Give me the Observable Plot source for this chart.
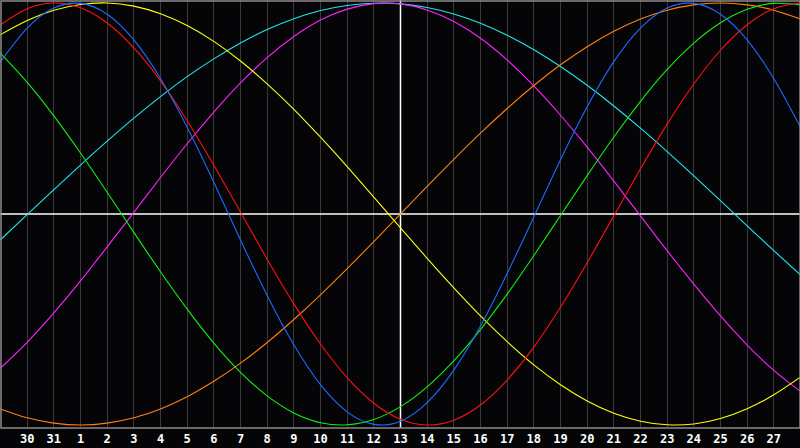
<!DOCTYPE html>
<html>
<head>
<meta charset="utf-8">
<script src="https://cdn.jsdelivr.net/npm/d3@7"></script>
<script src="https://cdn.jsdelivr.net/npm/@observablehq/plot@0.6"></script>
<style>
  html, body { margin: 0; padding: 0; background: #050508; }
  #chart { width: 800px; height: 448px; }
</style>
</head>
<body>
<div id="chart"></div>
<script>
// day offsets relative to the centre day (13), one sample per day
const offsets = d3.range(-15, 16);
// tick labels at day gridlines (offset -14 .. 14)
const tickOffsets = d3.range(-14, 15);
const dayLabels = [30, 31, 1, 2, 3, 4, 5, 6, 7, 8, 9, 10, 11, 12, 13, 14, 15, 16, 17, 18, 19, 20, 21, 22, 23, 24, 25, 26, 27];

// series values (-1 .. 1), one per day offset
const physical = [0.722,0.881,0.976,0.998,0.947,0.825,0.642,0.411,0.150,-0.123,-0.386,-0.620,-0.809,-0.938,-0.997,-0.982,-0.894,-0.740,-0.531,-0.282,-0.014,0.257,0.508,0.722,0.881,0.976,0.998,0.947,0.825,0.641,0.411];
const emotional = [0.897,0.973,1.000,0.977,0.905,0.787,0.631,0.442,0.231,0.009,-0.214,-0.426,-0.616,-0.776,-0.897,-0.973,-1.000,-0.977,-0.905,-0.787,-0.631,-0.442,-0.231,-0.009,0.214,0.426,0.616,0.776,0.897,0.973,1.000];
const intellectual = [0.761,0.624,0.465,0.289,0.103,-0.087,-0.274,-0.451,-0.612,-0.751,-0.862,-0.943,-0.989,-0.999,-0.974,-0.913,-0.819,-0.696,-0.548,-0.380,-0.197,-0.007,0.182,0.365,0.534,0.685,0.810,0.906,0.970,0.998,0.991];
const intuitive = [-0.730,-0.608,-0.469,-0.317,-0.156,0.008,0.173,0.333,0.483,0.621,0.741,0.841,0.919,0.971,0.997,0.996,0.967,0.912,0.833,0.730,0.607,0.468,0.317,0.156,-0.009,-0.174,-0.332,-0.483,-0.621,-0.741,-0.841];
const aesthetic = [0.850,0.917,0.966,0.993,1.000,0.985,0.949,0.893,0.818,0.725,0.617,0.496,0.364,0.225,0.080,-0.066,-0.210,-0.350,-0.483,-0.605,-0.715,-0.809,-0.886,-0.944,-0.982,-0.999,-0.995,-0.969,-0.923,-0.857,-0.773];
const awareness = [-0.924,-0.966,-0.991,-1.000,-0.991,-0.966,-0.924,-0.866,-0.793,-0.707,-0.609,-0.500,-0.383,-0.259,-0.131,0.000,0.131,0.259,0.383,0.500,0.609,0.707,0.793,0.866,0.924,0.966,0.991,1.000,0.991,0.966,0.924];
const spiritual = [-0.122,-0.003,0.115,0.232,0.345,0.454,0.556,0.651,0.735,0.810,0.874,0.925,0.964,0.988,0.999,0.996,0.979,0.948,0.904,0.847,0.778,0.699,0.610,0.512,0.407,0.296,0.181,0.063,-0.056,-0.174,-0.289];

const seriesNames = ["spiritual", "intuitive", "awareness", "aesthetic", "intellectual", "emotional", "physical"];
const seriesValues = [spiritual, intuitive, awareness, aesthetic, intellectual, emotional, physical];
const seriesColors = ["#22e6e6", "#ff22ff", "#ff7f10", "#ffff10", "#10f010", "#ff1010", "#1a6cff"];

const rows = [];
seriesNames.forEach((name, s) => {
  seriesValues[s].forEach((v, i) => rows.push({series: name, x: offsets[i], v}));
});

const chart = Plot.plot({
  width: 800,
  height: 448,
  marginLeft: 0,
  marginRight: 0,
  marginTop: 0,
  marginBottom: 20,
  style: {background: "#050508", overflow: "visible"},
  x: {domain: [-15, 15], axis: null},
  y: {domain: [-1.0166, 1.0118], axis: null},
  color: {domain: seriesNames, range: seriesColors},
  marks: [
    Plot.ruleX(tickOffsets, {x: d => d, stroke: "#3a3a3a", strokeWidth: 1, shapeRendering: "crispEdges"}),
    Plot.ruleY([0], {stroke: "#ffffff", strokeWidth: 1.5}),
    Plot.ruleX([0], {stroke: "#ffffff", strokeWidth: 1.5}),
    Plot.line(rows, {x: "x", y: "v", z: "series", stroke: "series", strokeWidth: 1.1, curve: "natural"}),
    Plot.frame({stroke: "#8a8a8a", strokeWidth: 1.5, inset: 0.5}),
    Plot.text(tickOffsets, {
      x: d => d,
      text: (d, i) => String(dayLabels[i]),
      frameAnchor: "bottom",
      dy: 11,
      lineAnchor: "middle",
      fill: "#ffffff",
      fontSize: 12,
      fontWeight: "bold",
      fontFamily: "DejaVu Sans Mono"
    })
  ]
});
document.getElementById("chart").appendChild(chart);
</script>
</body>
</html>
